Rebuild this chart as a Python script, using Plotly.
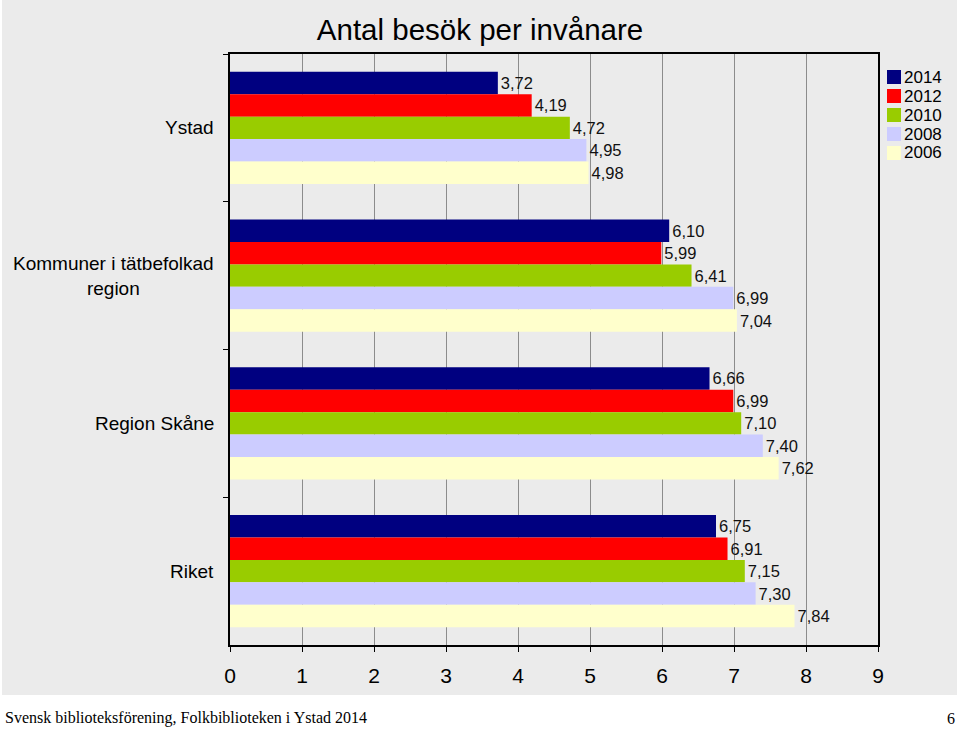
import plotly.graph_objects as go

categories = ["Ystad", "Kommuner i tätbefolkad<br>region", "Region Skåne", "Riket"]
years = ["2014", "2012", "2010", "2008", "2006"]
colors = ["#000080", "#FF0000", "#99CC00", "#CCCCFF", "#FFFFCC"]
values = {
    "2014": [3.72, 6.10, 6.66, 6.75],
    "2012": [4.19, 5.99, 6.99, 6.91],
    "2010": [4.72, 6.41, 7.10, 7.15],
    "2008": [4.95, 6.99, 7.40, 7.30],
    "2006": [4.98, 7.04, 7.62, 7.84],
}
x_ticks = list(range(0, 10))

W, H = 960, 730
L, R, T, B = 230, 82, 54, 85
pw, ph = W - L - R, H - T - B


def px2x(px):
    return (px - L) / pw


def px2y(py):
    return (H - B - py) / ph


fig = go.Figure()
for yr, col in zip(years, colors):
    vals = values[yr]
    fig.add_trace(go.Bar(
        y=categories, x=vals, orientation="h", name=yr,
        marker=dict(color=col, line=dict(width=0)),
        text=[f"{v:.2f}".replace(".", ",") for v in vals],
        textposition="outside", constraintext="none", cliponaxis=False,
        textfont=dict(family="Liberation Sans, Arial", size=16.5, color="#111"),
        showlegend=False,
    ))

shapes = [
    dict(type="rect", xref="paper", yref="paper", layer="below",
         x0=px2x(2), x1=px2x(957), y0=px2y(695), y1=px2y(0),
         fillcolor="#ebebeb", line=dict(width=0)),
]
annotations = []
# category labels
for c in categories:
    annotations.append(dict(
        x=px2x(216), xref="paper", y=c, yref="y", text=c, showarrow=False,
        xanchor="right", yanchor="middle", align="center",
        font=dict(family="Liberation Sans, Arial", size=19, color="#000")))
# manual legend
for i, (yr, col) in enumerate(zip(years, colors)):
    cy = 77 + i * 19
    shapes.append(dict(type="rect", xref="paper", yref="paper",
                       x0=px2x(887), x1=px2x(901), y0=px2y(cy + 7), y1=px2y(cy - 7),
                       fillcolor=col, line=dict(width=0)))
    annotations.append(dict(x=px2x(903), y=px2y(cy), xref="paper", yref="paper",
                            text=yr, showarrow=False, xanchor="left", yanchor="middle",
                            borderpad=0,
                            font=dict(family="Liberation Sans, Arial", size=17, color="#000")))
# footer
annotations.append(dict(x=px2x(3), y=px2y(718), xref="paper", yref="paper",
                        text="Svensk biblioteksförening, Folkbiblioteken i Ystad 2014",
                        showarrow=False, xanchor="left", yanchor="middle",
                        font=dict(family="Liberation Serif, Times New Roman", size=16, color="#000")))
annotations.append(dict(x=px2x(957), y=px2y(718), xref="paper", yref="paper",
                        text="6", showarrow=False, xanchor="right", yanchor="middle",
                        font=dict(family="Liberation Serif, Times New Roman", size=16, color="#000")))

fig.update_layout(
    width=W, height=H,
    margin=dict(l=L, r=R, t=T, b=B),
    paper_bgcolor="white",
    plot_bgcolor="#f3f3f3",
    barmode="group", bargap=0.24, bargroupgap=0,
    title=dict(text="Antal besök per invånare", x=0.5, xref="container", xanchor="center",
               y=1 - 30 / H, yref="container", yanchor="middle",
               font=dict(family="Liberation Sans, Arial", size=29.5, color="#000")),
    xaxis=dict(range=[0, 9], tickvals=x_ticks, showgrid=True, gridcolor="#8c8c8c", gridwidth=1,
               showline=True, linecolor="#000", linewidth=1.5, mirror=True,
               ticks="outside", ticklen=5, tickcolor="#000", ticklabelstandoff=6,
               tickfont=dict(family="Liberation Sans, Arial", size=21, color="#000"),
               zeroline=False, fixedrange=True),
    yaxis=dict(autorange="reversed", showticklabels=False, ticks="outside", tickson="boundaries",
               ticklen=5, tickcolor="#000", showline=True, linecolor="#000", linewidth=1.5,
               mirror=True, showgrid=False),
    shapes=shapes,
    annotations=annotations,
)

fig.write_html("out.html")
